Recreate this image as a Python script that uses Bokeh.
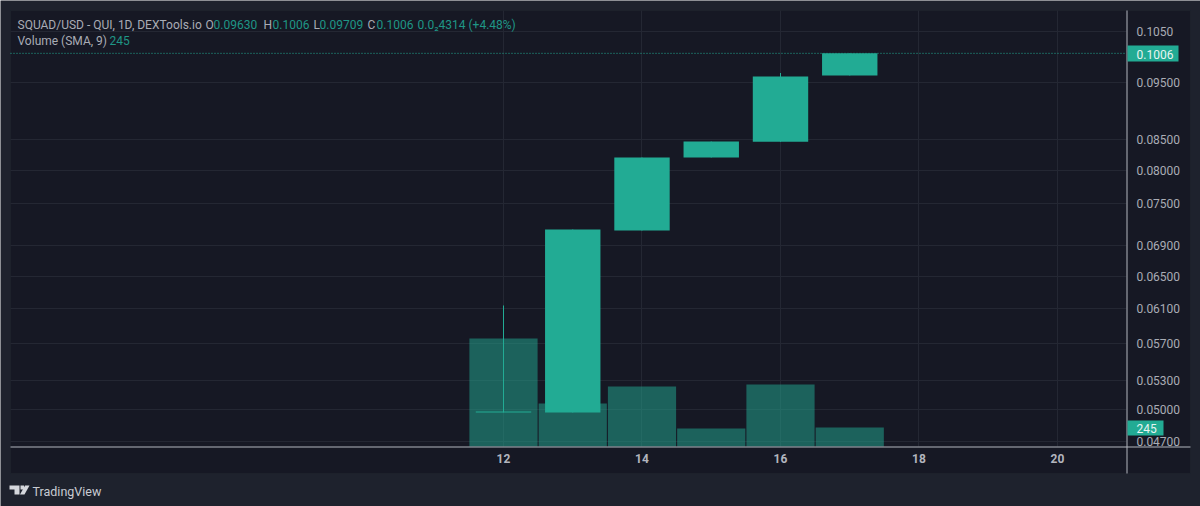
from bokeh.embed import file_html
from bokeh.resources import INLINE
from bokeh.plotting import figure
from bokeh.models import (BoxAnnotation, ColumnDataSource, FixedTicker, Label, LinearScale,
                          PolyAnnotation, Range1d)

days = [12, 13, 14, 15, 16, 17]
opens = [0.04975, 0.04975, 0.07108, 0.0820, 0.0846, 0.09630]
closes = [0.04985, 0.07122, 0.08201, 0.08463, 0.09613, 0.1006]
highs = [0.06136, 0.07122, 0.08201, 0.08463, 0.09680, 0.1006]
lows = [0.04975, 0.04975, 0.07108, 0.0820, 0.0846, 0.09630]
volumes = [1393, 555, 775, 232, 800, 245]
price_ticks = [0.047, 0.05, 0.053, 0.057, 0.061, 0.065, 0.069, 0.075, 0.08, 0.085, 0.095, 0.105]
price_labels = ["0.04700", "0.05000", "0.05300", "0.05700", "0.06100", "0.06500", "0.06900",
                "0.07500", "0.08000", "0.08500", "0.09500", "0.1050"]
day_ticks = [12, 14, 16, 18, 20]
last_price = 0.1006
last_volume = 245

OUTER = "#1e222d"
PANEL = "#161824"
EDGE = "#262a36"
GRID = "#242733"
UP = "#22ab94"
AXIS = "#b2b5be"
TEXT = "#a9acb5"
VALUE = "#1f9686"
FONT = "Roboto"

# chart-area limits in data units (the frame spans the whole canvas)
X_VIEW = (4.7365, 22.065)
Y_VIEW = (0.04137, 0.11158)
VOL_VIEW = (-774, 5751)
X_PANE = (4.881, 20.996)
Y_PANE = (0.04654, 0.10941)

p = figure(width=1200, height=506, output_backend="svg", toolbar_location=None,
           y_axis_type="log", y_axis_location="right",
           x_range=Range1d(*X_VIEW), y_range=Range1d(*Y_VIEW),
           min_border_left=0, min_border_top=0, min_border_right=0, min_border_bottom=0)
p.background_fill_color = OUTER
p.border_fill_color = OUTER
p.outline_line_color = None
p.extra_y_ranges = {"vol": Range1d(*VOL_VIEW)}
p.extra_y_scales = {"vol": LinearScale()}


def box(l, t, r, b, fill, line=None, level="annotation"):
    p.add_layout(BoxAnnotation(left=l, right=r, top=t, bottom=b,
                               left_units="canvas", right_units="canvas", top_units="canvas",
                               bottom_units="canvas", fill_color=fill, fill_alpha=1,
                               line_color=line, level=level, editable=False))


def text(x, y, s, color=TEXT, size="12px", style="normal", font=FONT):
    p.add_layout(Label(x=x, y=y, x_units="canvas", y_units="canvas", text=s, text_color=color,
                       text_font_size=size, text_font=font, text_font_style=style,
                       text_align="left", text_baseline="middle", level="overlay"))


box(10, 10, 1190, 473, PANEL, EDGE, "image")

# grid
p.xgrid.ticker = FixedTicker(ticks=day_ticks)
p.ygrid.ticker = FixedTicker(ticks=price_ticks)
p.xgrid.grid_line_color = GRID
p.ygrid.grid_line_color = GRID
p.xgrid.cross_bounds = Y_PANE
p.ygrid.cross_bounds = X_PANE

# axes drawn inside the full-canvas frame
for axis in (p.xaxis[0], p.yaxis[0]):
    axis.major_tick_in = 0
    axis.major_tick_out = 0
    axis.major_tick_line_color = None
    axis.minor_tick_line_color = None
    axis.axis_line_color = None
    axis.major_label_text_font = FONT
    axis.major_label_text_font_size = "12px"
p.xaxis.ticker = FixedTicker(ticks=day_ticks)
p.xaxis.fixed_location = Y_PANE[0]
p.xaxis.major_label_standoff = 8
p.xaxis.major_label_text_color = "#b2b5be"
p.xaxis.major_label_text_font_style = "bold"
p.yaxis.ticker = FixedTicker(ticks=price_ticks)
p.yaxis.major_label_overrides = dict(zip(price_ticks, price_labels))
p.yaxis.fixed_location = X_PANE[1]
p.yaxis.major_label_standoff = 10
p.yaxis.major_label_text_color = TEXT

# volume
src = ColumnDataSource(dict(day=days, o=opens, c=closes, h=highs, l=lows, v=volumes))
p.vbar(x="day", width=0.985, bottom=0, top="v", source=src, y_range_name="vol",
       fill_color=UP, fill_alpha=0.5, line_color=None)

# last price line
p.line(x=list(X_PANE), y=[last_price, last_price], line_color=UP, line_dash=[1, 2], line_width=1)

# candles
p.vbar(x="day", width=0.0145, bottom="l", top="h", source=src, fill_color=UP, line_color=None)
p.vbar(x="day", width=0.8, bottom="o", top="c", source=src, fill_color=UP, line_color=None)

# frame lines
box(10, 446, 1190, 447, AXIS)
box(1126, 10, 1127, 473, AXIS)

# tags
box(1127, 45, 1178, 61, UP)
text(1136, 54, "0.1006", "#e8f5f2")
box(1127, 420, 1163, 435, UP)
text(1136, 428, str(last_volume), "#e8f5f2")

# legend
text(17, 24, "SQUAD/USD - QUI, 1D, DEXTools.io")
for x, s, c in [(205, "O", TEXT), (213, "0.09630", VALUE), (263, "H", TEXT), (272, "0.1006", VALUE),
                (313, "L", TEXT), (319, "0.09709", VALUE), (367, "C", TEXT), (376, "0.1006", VALUE),
                (417, "0.0\u20824314 (+4.48%)", VALUE)]:
    text(x, 24, s, c)
text(17, 40, "Volume (SMA, 9)")
text(109, 40, str(last_volume), VALUE)

# TradingView mark
text(32, 491, "TradingView", "#c8cbd2", "12.5px")
LOGO = "#d5d7dc"
for xs, ys in [([9, 19, 19, 14, 14, 9], [485, 485, 494, 494, 489, 489]),
               ([20, 23.5, 23.5, 20], [485, 485, 489, 489]),
               ([24.5, 29, 24, 19.5], [485, 485, 494, 494])]:
    p.add_layout(PolyAnnotation(xs=xs, ys=ys, xs_units="canvas", ys_units="canvas",
                                fill_color=LOGO, fill_alpha=1, line_color=None, level="overlay",
                                editable=False))

open("out.html", "w").write(file_html(p, INLINE))
